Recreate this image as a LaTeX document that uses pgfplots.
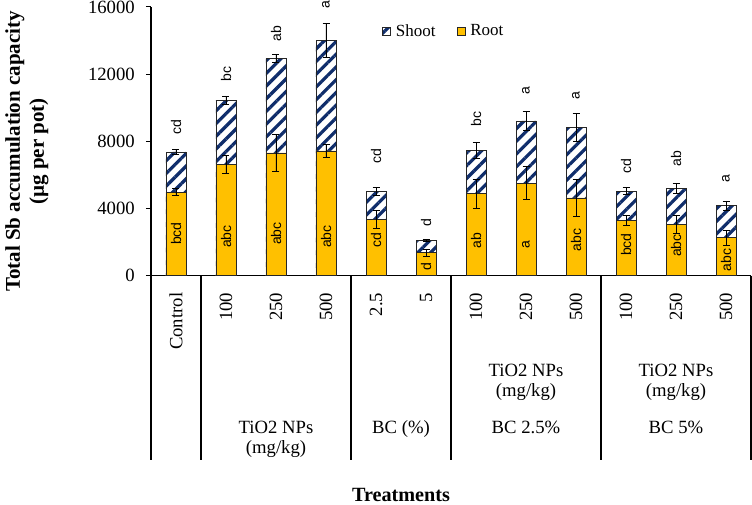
\documentclass[border=0pt]{standalone}
\usepackage{fontspec}
\setmainfont{Liberation Serif}
\newfontfamily\arial{Liberation Sans}
\usepackage{pgfplots}
\pgfplotsset{compat=1.18}
\usepackage{pgfplotstable}
\usetikzlibrary{patterns.meta}
\definecolor{rootc}{HTML}{FFC000}
\definecolor{shootc}{HTML}{0F2D6B}
\definecolor{edgec}{HTML}{262626}
\newcommand\tl{\fontsize{18.7}{22}\selectfont}
\newcommand\lf{\arial\fontsize{14}{16}\selectfont}

% x: category index; root, rerr: root mean and error; shoot, serr: shoot part and error of total
\pgfplotstableread{
x root rerr shoot serr
0 4970 220 2390 160
1 6630 520 3820 250
2 7300 1120 5640 240
3 7420 400 6590 1030
4 3340 550 1670 240
5 1350 230 740 60
6 4880 870 2580 500
7 5510 970 3700 540
8 4620 1100 4200 840
9 3280 320 1750 200
10 3040 550 2170 300
11 2250 450 1910 280
}\data

\pgfplotsset{myleg/.style={legend image code/.code={\draw[##1, line width=0.7pt] (0pt,-4pt) rectangle (8pt,4pt);}}}

\begin{document}
\begin{tikzpicture}
\useasboundingbox (-151pt,-229.5pt) rectangle (601pt,275.5pt);
\begin{axis}[
  at={(0,0)}, anchor=south west,
  scale only axis, width=600pt, height=268.5pt,
  xmin=-0.5, xmax=11.5, ymin=0, ymax=16000,
  axis x line*=bottom, axis y line*=left,
  axis line style={line width=1.3pt, black},
  xtick={0,...,11},
  xticklabels={Control,100,250,500,2.5,5,100,250,500,100,250,500},
  x tick style={draw=none},
  xticklabel style={rotate=90, anchor=east, inner sep=0pt},
  xticklabel shift=12pt,
  ytick={0,4000,8000,12000,16000},
  y tick style={line width=1pt, black},
  tick align=outside, major tick length=5pt,
  yticklabel style={inner sep=0pt},
  yticklabel shift=11pt,
  scaled y ticks=false,
  /pgf/number format/.cd, 1000 sep={}, assume math mode=true, /pgfplots/.cd,
  tick label style={font=\tl},
  ylabel={Total Sb accumulation capacity\\(µg per pot)},
  ylabel style={at={(axis description cs:-0.2067,0.462)}, anchor=center, align=center, font=\fontsize{21}{24}\selectfont\bfseries},
  xlabel={Treatments},
  xlabel style={at={(axis description cs:0.4167,0)}, anchor=base, yshift=-226pt, font=\fontsize{20.2}{24}\selectfont\bfseries},
  clip=false,
  legend style={at={(rel axis cs:0.385,0.9106)}, anchor=west, draw=none, fill=none, inner sep=0pt,
    legend columns=2, font=\fontsize{17}{20}\selectfont, nodes={inner sep=0pt},
    /tikz/every odd column/.append style={column sep=5pt},
    /tikz/every even column/.append style={column sep=21pt}},
]
\addplot[ybar, myleg, bar width=20pt, bar shift=0pt, draw=edgec, line width=0.7pt,
  preaction={fill=white},
  pattern={Lines[angle=45,distance=9pt,line width=3.2pt]}, pattern color=shootc,
  error bars/.cd, y dir=both, y explicit,
  error bar style={black, line width=0.8pt},
  error mark options={rotate=90, mark size=3.5pt, black, line width=0.8pt}]
  table[x=x, y expr=\thisrow{root}+\thisrow{shoot}, y error=serr]{\data};
\addlegendentry{Shoot}
\addplot[ybar, myleg, bar width=20pt, bar shift=0pt, draw=edgec, line width=0.7pt, fill=rootc,
  error bars/.cd, y dir=both, y explicit,
  error bar style={black, line width=0.8pt},
  error mark options={rotate=90, mark size=3.5pt, black, line width=0.8pt}]
  table[x=x, y=root, y error=rerr]{\data};
\addlegendentry{Root}

% letters above bars
\node[rotate=90, anchor=west, inner sep=0pt, font=\lf] at (axis cs:0,8373) {cd};
\node[rotate=90, anchor=west, inner sep=0pt, font=\lf] at (axis cs:1,11549) {bc};
\node[rotate=90, anchor=west, inner sep=0pt, font=\lf] at (axis cs:2,13932) {ab};
\node[rotate=90, anchor=west, inner sep=0pt, font=\lf] at (axis cs:3,15881) {a};
\node[rotate=90, anchor=west, inner sep=0pt, font=\lf] at (axis cs:4,6686) {cd};
\node[rotate=90, anchor=west, inner sep=0pt, font=\lf] at (axis cs:5,2908) {d};
\node[rotate=90, anchor=west, inner sep=0pt, font=\lf] at (axis cs:6,8867) {bc};
\node[rotate=90, anchor=west, inner sep=0pt, font=\lf] at (axis cs:7,10798) {a};
\node[rotate=90, anchor=west, inner sep=0pt, font=\lf] at (axis cs:8,10458) {a};
\node[rotate=90, anchor=west, inner sep=0pt, font=\lf] at (axis cs:9,6090) {cd};
\node[rotate=90, anchor=west, inner sep=0pt, font=\lf] at (axis cs:10,6483) {ab};
\node[rotate=90, anchor=west, inner sep=0pt, font=\lf] at (axis cs:11,5554) {a};
% letters inside root bars
\node[rotate=90, anchor=west, inner sep=0pt, font=\lf] at (axis cs:0,1817) {bcd};
\node[rotate=90, anchor=west, inner sep=0pt, font=\lf] at (axis cs:1,1639) {abc};
\node[rotate=90, anchor=west, inner sep=0pt, font=\lf] at (axis cs:2,1817) {abc};
\node[rotate=90, anchor=west, inner sep=0pt, font=\lf] at (axis cs:3,1639) {abc};
\node[rotate=90, anchor=west, inner sep=0pt, font=\lf] at (axis cs:4,1639) {cd};
\node[rotate=90, anchor=west, inner sep=0pt, font=\lf] at (axis cs:5,286) {d};
\node[rotate=90, anchor=west, inner sep=0pt, font=\lf] at (axis cs:6,1621) {ab};
\node[rotate=90, anchor=west, inner sep=0pt, font=\lf] at (axis cs:7,1621) {a};
\node[rotate=90, anchor=west, inner sep=0pt, font=\lf] at (axis cs:8,1418) {abc};
\node[rotate=90, anchor=west, inner sep=0pt, font=\lf] at (axis cs:9,1162) {bcd};
\node[rotate=90, anchor=west, inner sep=0pt, font=\lf] at (axis cs:10,1102) {abc};
\node[rotate=90, anchor=west, inner sep=0pt, font=\lf] at (axis cs:11,226) {abc};

% multi-level category separators
\draw[line width=1.3pt, black] (axis cs:-0.5,0) -- ([yshift=-184.5pt]axis cs:-0.5,0);
\draw[line width=1.3pt, black] (axis cs:0.5,0) -- ([yshift=-184.5pt]axis cs:0.5,0);
\draw[line width=1.3pt, black] (axis cs:3.5,0) -- ([yshift=-184.5pt]axis cs:3.5,0);
\draw[line width=1.3pt, black] (axis cs:5.5,0) -- ([yshift=-184.5pt]axis cs:5.5,0);
\draw[line width=1.3pt, black] (axis cs:8.5,0) -- ([yshift=-184.5pt]axis cs:8.5,0);
\draw[line width=1.3pt, black] (axis cs:11.5,0) -- ([yshift=-184.5pt]axis cs:11.5,0);
% group labels
\node[anchor=base, font=\tl] at ([yshift=-157.5pt]axis cs:2,0) {TiO2 NPs};
\node[anchor=base, font=\tl] at ([yshift=-177.5pt]axis cs:2,0) {(mg/kg)};
\node[anchor=base, font=\tl] at ([yshift=-157.5pt]axis cs:4.5,0) {BC (\%)};
\node[anchor=base, font=\tl] at ([yshift=-101.2pt]axis cs:7,0) {TiO2 NPs};
\node[anchor=base, font=\tl] at ([yshift=-121.2pt]axis cs:7,0) {(mg/kg)};
\node[anchor=base, font=\tl] at ([yshift=-157.5pt]axis cs:7,0) {BC 2.5\%};
\node[anchor=base, font=\tl] at ([yshift=-101.2pt]axis cs:10,0) {TiO2 NPs};
\node[anchor=base, font=\tl] at ([yshift=-121.2pt]axis cs:10,0) {(mg/kg)};
\node[anchor=base, font=\tl] at ([yshift=-157.5pt]axis cs:10,0) {BC 5\%};
\end{axis}
\end{tikzpicture}
\end{document}
